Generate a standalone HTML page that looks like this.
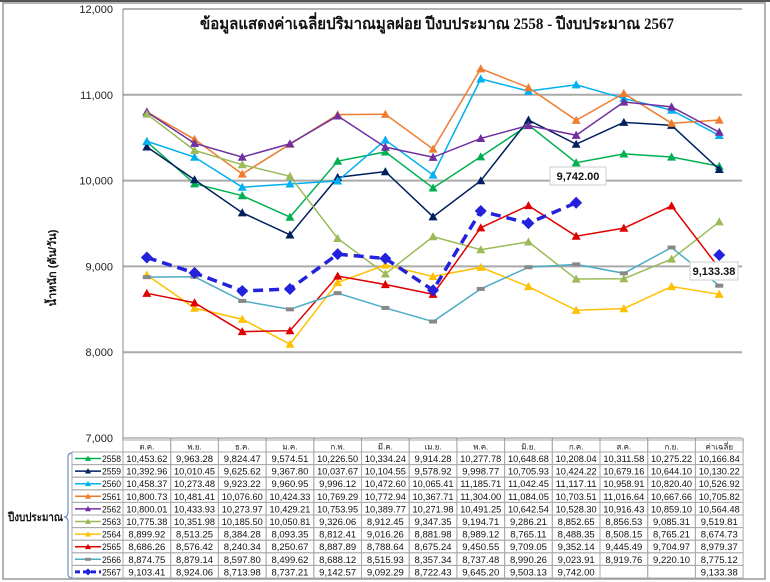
<!DOCTYPE html>
<html><head><meta charset="utf-8"><style>
html,body{margin:0;padding:0;background:#fff;}
svg{display:block;font-family:"Liberation Sans","Noto Sans CJK SC",sans-serif;}
</style></head><body>
<svg id="s" width="770" height="582" viewBox="0 0 770 582" xmlns="http://www.w3.org/2000/svg">
<rect x="0" y="0" width="770" height="582" fill="#fff"/>
<rect x="3" y="3" width="762" height="576" fill="none" stroke="#999" stroke-width="1.5"/>
<line x1="0" y1="1" x2="770" y2="1" stroke="#555" stroke-width="2"/>
<g id="grid"></g>
<text x="437" y="29" text-anchor="middle" font-family="'Liberation Serif','Noto Serif CJK SC',serif" font-weight="bold" font-size="16" textLength="474" lengthAdjust="spacingAndGlyphs" fill="#111">ข้อมูลแสดงค่าเฉลี่ยปริมาณมูลฝอย ปีงบประมาณ 2558 - ปีงบประมาณ 2567</text>
<text transform="translate(56,268) rotate(-90)" text-anchor="middle" font-weight="bold" font-size="11" fill="#111" font-family="'Liberation Sans','Noto Sans CJK SC',sans-serif">น้ำหนัก (ตัน/วัน)</text>
<g id="series"></g>
<rect x="550" y="167" width="56" height="18" fill="#fff" stroke="#ccc"/>
<text x="578" y="180" text-anchor="middle" font-weight="bold" font-size="11" fill="#111">9,742.00</text>
<rect x="690" y="262" width="48" height="18" fill="#fff" stroke="#ccc"/>
<text x="714" y="275" text-anchor="middle" font-weight="bold" font-size="11" fill="#111">9,133.38</text>
<g id="table"></g>
<path d="M72,453 Q68,453 68,457 L68,512 Q68,517 64,517 Q68,517 68,522 L68,574 Q68,578 72,578" fill="none" stroke="#6a8fc8" stroke-width="1.2"/>
<text x="8" y="521" font-size="11.5" font-weight="bold" fill="#111" textLength="55" lengthAdjust="spacingAndGlyphs" font-family="'Liberation Sans','Noto Sans CJK SC',sans-serif">ปีงบประมาณ</text>
</svg>
<script>
var NS="http://www.w3.org/2000/svg";
function el(t,a,p,txt){var e=document.createElementNS(NS,t);for(var k in a)e.setAttribute(k,a[k]);if(txt!=null)e.textContent=txt;p.appendChild(e);return e;}
var X0=123,CW=47.7,Y=function(v){return 9+(12000-v)*0.0858;};
var g=document.getElementById('grid');
el('line',{x1:X0,y1:9,x2:742,y2:9,stroke:'#999','stroke-width':1.5},g);
[11000,10000,9000,8000].forEach(function(v){el('line',{x1:X0,y1:Y(v),x2:742,y2:Y(v),stroke:'#aaa','stroke-width':2},g);});
el('line',{x1:X0,y1:9,x2:X0,y2:438,stroke:'#888','stroke-width':1},g);
el('line',{x1:X0,y1:438,x2:742,y2:438,stroke:'#888','stroke-width':1},g);
for(var i=0;i<=13;i++)el('line',{x1:X0+CW*i,y1:438,x2:X0+CW*i,y2:442,stroke:'#888'},g);
[12000,11000,10000,9000,8000,7000].forEach(function(v){el('text',{x:113,y:Y(v)+4,'text-anchor':'end','font-size':11,fill:'#222'},g,v.toLocaleString('en-US'));});
var S=[
["2558","#00B050",[10453.62,9963.28,9824.47,9574.51,10226.50,10334.24,9914.28,10277.78,10648.68,10208.04,10311.58,10275.22,10166.84]],
["2559","#002060",[10392.96,10010.45,9625.62,9367.80,10037.67,10104.55,9578.92,9998.77,10705.93,10424.22,10679.16,10644.10,10130.22]],
["2560","#00B0F0",[10458.37,10273.48,9923.22,9960.95,9996.12,10472.60,10065.41,11185.71,11042.45,11117.11,10958.91,10820.40,10526.92]],
["2561","#ED7D31",[10800.73,10481.41,10076.60,10424.33,10769.29,10772.94,10367.71,11304.00,11084.05,10703.51,11016.64,10667.66,10705.82]],
["2562","#7030A0",[10800.01,10433.93,10273.97,10429.21,10753.95,10389.77,10271.98,10491.25,10642.54,10528.30,10916.43,10859.10,10564.48]],
["2563","#9BBB59",[10775.38,10351.98,10185.50,10050.81,9326.06,8912.45,9347.35,9194.71,9286.21,8852.65,8856.53,9085.31,9519.81]],
["2564","#FFC000",[8899.92,8513.25,8384.28,8093.35,8812.41,9016.26,8881.98,8989.12,8765.11,8488.35,8508.15,8765.21,8674.73]],
["2565","#E00000",[8686.26,8576.42,8240.34,8250.67,8887.89,8788.64,8675.24,9450.55,9709.05,9352.14,9445.49,9704.97,8979.37]],
["2566","#4BACC6",[8874.75,8879.14,8597.80,8499.62,8688.12,8515.93,8357.34,8737.48,8990.26,9023.91,8919.76,9220.10,8775.12]],
["2567","#2222DD",[9103.41,8924.06,8713.98,8737.21,9142.57,9092.29,8722.43,9645.20,9503.13,9742.00,null,null,9133.38]]
];
var sg=document.getElementById('series');
function cx(i){return X0+CW*(i+0.5);}
function tri(p,x,y,c,s){el('polygon',{points:(x)+','+(y-s)+' '+(x-s)+','+(y+s*0.8)+' '+(x+s)+','+(y+s*0.8),fill:c},p);}
function dia(p,x,y,c,s){el('polygon',{points:x+','+(y-s)+' '+(x+s)+','+y+' '+x+','+(y+s)+' '+(x-s)+','+y,fill:c},p);}
S.forEach(function(s,k){
  var c=s[1],d=s[2],pts=[];
  for(var i=0;i<10;i++)if(d[i]!=null)pts.push(cx(i)+','+Y(d[i]));
  if(k==9){
    el('polyline',{points:pts.join(' '),fill:'none',stroke:c,'stroke-width':3.5,'stroke-dasharray':'10,6'},sg);
    for(var i=0;i<10;i++)dia(sg,cx(i),Y(d[i]),c,6);
    dia(sg,cx(12),Y(d[12]),c,6);
  } else {
    var all=[];for(var i=0;i<13;i++)all.push(cx(i)+','+Y(d[i]));
    el('polyline',{points:all.join(' '),fill:'none',stroke:c,'stroke-width':1.5},sg);
    for(var i=0;i<13;i++){ if(k==8)el('rect',{x:cx(i)-4,y:Y(d[i])-2,width:8,height:4,fill:'#888'},sg); else tri(sg,cx(i),Y(d[i]),c,4.5);}
  }
});
var tg=document.getElementById('table');
var hdr=["ต.ค.","พ.ย.","ธ.ค.","ม.ค.","ก.พ.","มี.ค.","เม.ย.","พ.ค.","มิ.ย.","ก.ค.","ส.ค.","ก.ย.","ค่าเฉลี่ย"];
var TY=440,HH=12,RH=12.6;
el('rect',{x:X0,y:TY,width:CW*13,height:HH,fill:'#fff',stroke:'#aaa'},tg);
for(var i=0;i<13;i++){el('rect',{x:X0+CW*i,y:TY,width:CW,height:HH,fill:'none',stroke:'#aaa'},tg);
 el('text',{x:cx(i),y:TY+9.5,'text-anchor':'middle','font-size':8,fill:'#222'},tg,hdr[i]);}
function fmt(v){return v==null?'':v.toLocaleString('en-US',{minimumFractionDigits:2,maximumFractionDigits:2});}
S.forEach(function(s,r){
  var y=TY+HH+RH*r;
  el('rect',{x:72,y:y,width:51,height:RH,fill:'none',stroke:'#aaa'},tg);
  if(r==9){el('line',{x1:75,y1:y+6.5,x2:101,y2:y+6.5,stroke:s[1],'stroke-width':3,'stroke-dasharray':'5,3'},tg);dia(tg,88,y+6.5,s[1],3.5);}
  else{el('line',{x1:75,y1:y+6.5,x2:101,y2:y+6.5,stroke:s[1],'stroke-width':1.5},tg);
   if(r==8)el('rect',{x:85,y:y+5,width:6,height:3,fill:'#888'},tg);else tri(tg,88,y+6.5,s[1],3);}
  el('text',{x:121,y:y+10,'text-anchor':'end','font-size':9.5,textLength:19,lengthAdjust:'spacingAndGlyphs',fill:'#111'},tg,s[0]);
  for(var i=0;i<13;i++){
    el('rect',{x:X0+CW*i,y:y,width:CW,height:RH,fill:'none',stroke:'#aaa'},tg);
    var t=fmt(s[2][i]);
    if(t){var a={x:cx(i),y:y+10,'text-anchor':'middle','font-size':9.5,fill:'#111'};
      if(t.length>=9){a.textLength=41;a.lengthAdjust='spacingAndGlyphs';}
      el('text',a,tg,t);}
  }
});
</script>
</body></html>
